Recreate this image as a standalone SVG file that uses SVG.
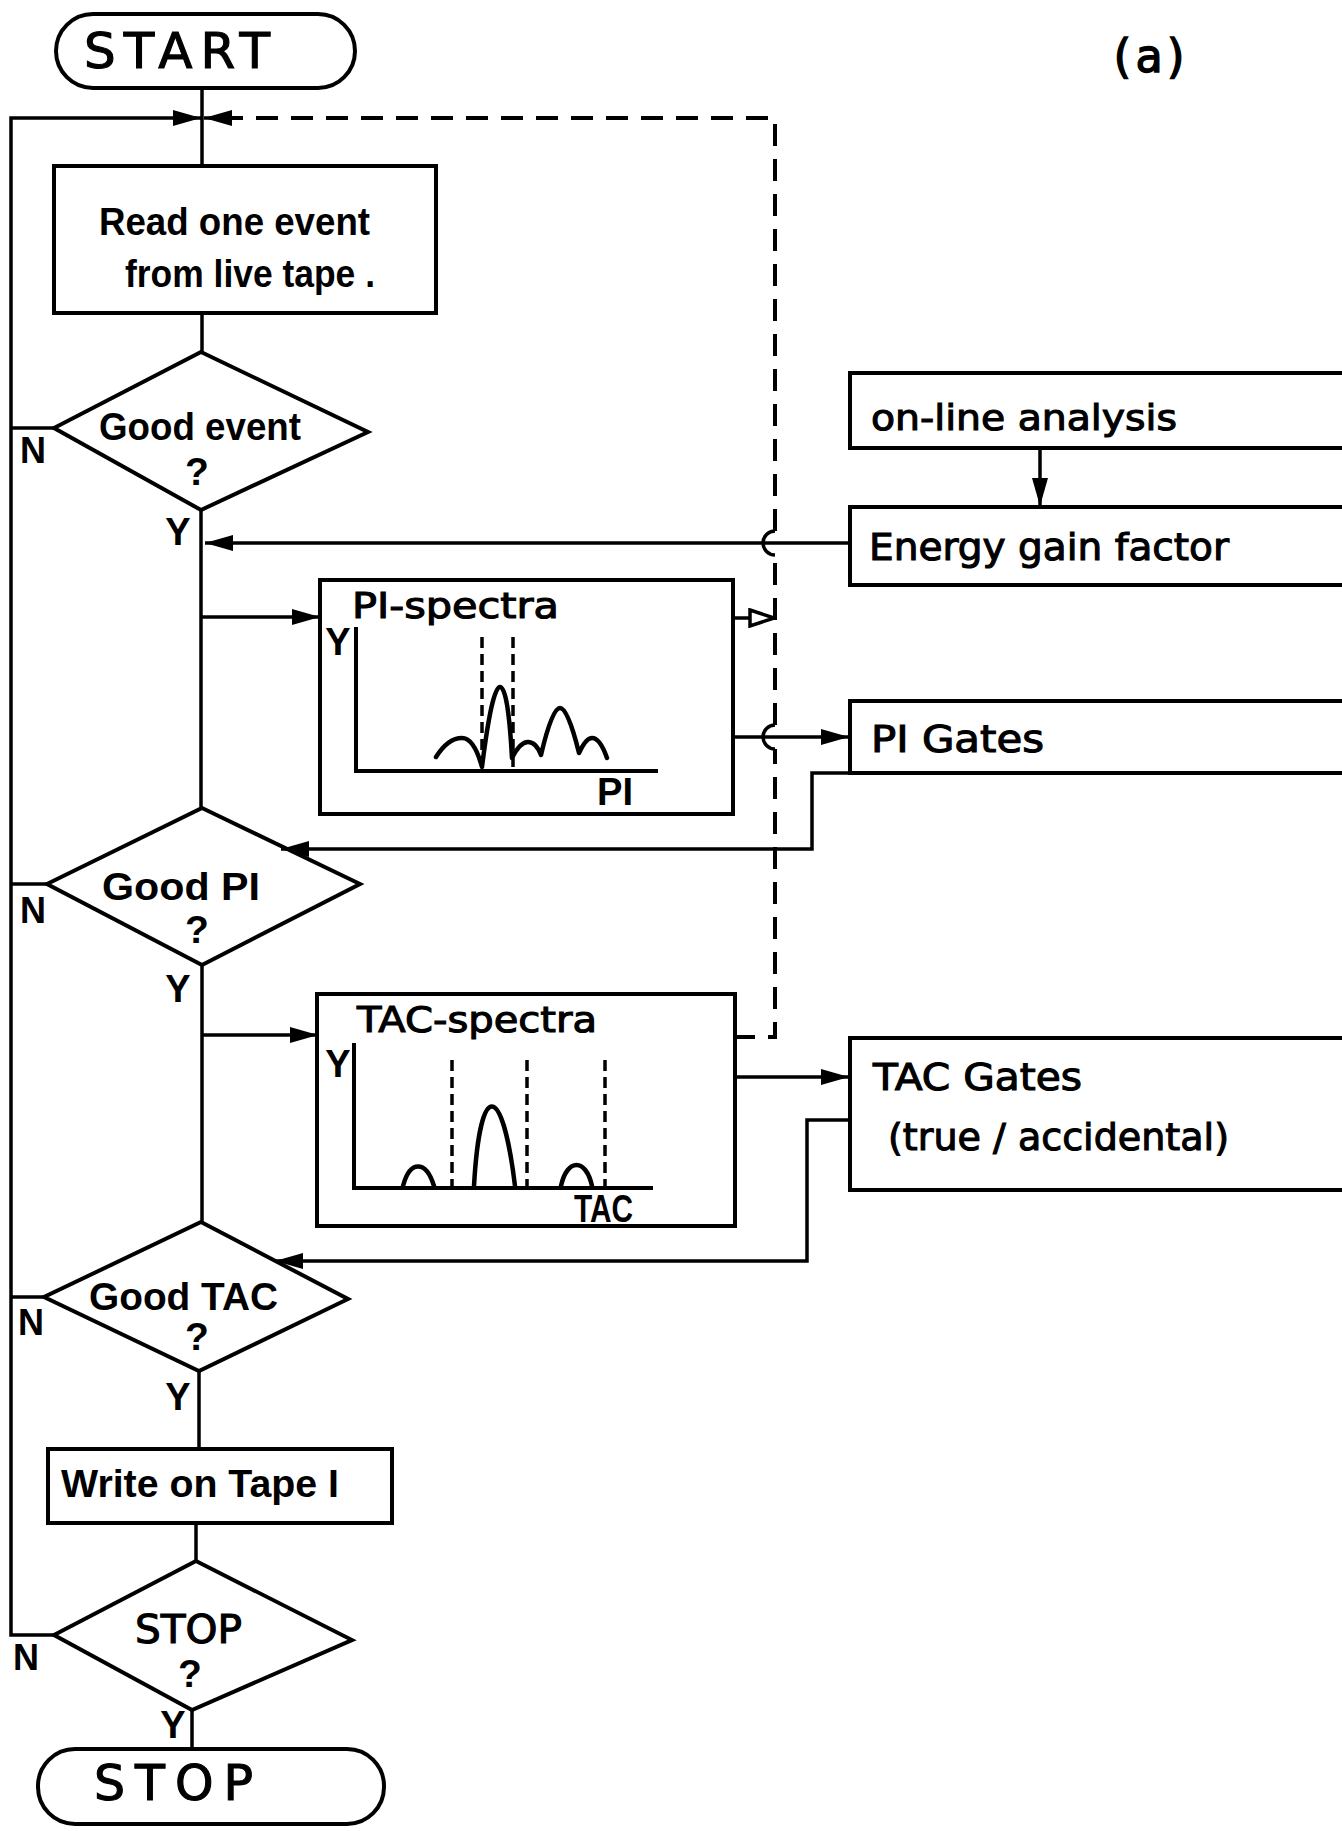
<svg xmlns="http://www.w3.org/2000/svg" width="1342" height="1831" viewBox="0 0 1342 1831">
<style>
.ln{fill:none;stroke:#000;stroke-width:3.5;stroke-linejoin:miter}
.bx{fill:none;stroke:#000;stroke-width:4}
.ds{fill:none;stroke:#000;stroke-width:4;stroke-dasharray:22 13}
.gd{fill:none;stroke:#000;stroke-width:3.5;stroke-dasharray:11 6}
.cv{fill:none;stroke:#000;stroke-width:4.5;stroke-linejoin:round;stroke-linecap:round}
.c{font-family:"Liberation Sans",Arial,sans-serif;font-weight:bold;fill:#000}
.d{font-family:"DejaVu Sans","Liberation Sans",sans-serif;fill:#000;stroke:#000;stroke-width:1.1}
.m{font-family:"DejaVu Sans Mono","Liberation Mono",monospace;fill:#000;stroke:#000;stroke-width:1.4}
</style>
<defs>
<marker id="ah" markerWidth="28" markerHeight="18" refX="28" refY="9" orient="auto" markerUnits="userSpaceOnUse">
<path d="M0,1 L28,9 L0,17 Z" fill="#000" stroke="none"/>
</marker>
<marker id="oh" markerWidth="28" markerHeight="20" refX="26" refY="10" orient="auto" markerUnits="userSpaceOnUse">
<path d="M2,2 L26,10 L2,18 Z" fill="#fff" stroke="#000" stroke-width="3.5"/>
</marker>
</defs>

<g id="connectors">
<path class="ln" d="M202 88 V165"/>
<path class="ln" d="M202 313 V352"/>
<path class="ln" d="M201 510 V808"/>
<path class="ln" d="M202 965 V1222"/>
<path class="ln" d="M199 1371 V1449"/>
<path class="ln" d="M196 1523 V1561"/>
<path class="ln" d="M192 1710 V1749"/>
<path class="ln" d="M54 1635 H11 V118 H201" marker-end="url(#ah)"/>
<path class="ln" d="M54 428 H11"/>
<path class="ln" d="M47 884 H11"/>
<path class="ln" d="M44 1297 H11"/>
<path class="ds" d="M733 1037 H775 V749"/>
<path class="ds" d="M775 725 V555"/>
<path class="ds" d="M775 531 V118 H232"/>
<path class="ln" d="M240 118 H204" marker-end="url(#ah)"/>
<path class="ln" d="M775 749 A12 12 0 0 1 775 725"/>
<path class="ln" d="M775 555 A12 12 0 0 1 775 531"/>
<path class="ln" d="M850 543 H205" marker-end="url(#ah)"/>
<path class="ln" d="M202 617 H320" marker-end="url(#ah)"/>
<path class="ln" d="M733 618 H774" marker-end="url(#oh)"/>
<path class="ln" d="M733 737 H849" marker-end="url(#ah)"/>
<path class="ln" d="M850 773 H812 V849 H281" marker-end="url(#ah)"/>
<path class="ln" d="M202 1035 H318" marker-end="url(#ah)"/>
<path class="ln" d="M735 1077 H849" marker-end="url(#ah)"/>
<path class="ln" d="M850 1120 H807 V1261 H275" marker-end="url(#ah)"/>
<path class="ln" d="M1040 448 V506" marker-end="url(#ah)"/>
</g>

<g id="start">
<rect class="bx" x="56" y="14" width="299" height="74" rx="37"/>
<text class="d" x="84" y="68" style="font-size:50px" textLength="186" lengthAdjust="spacing">START</text>
</g>
<g id="label-a">
<text class="m" x="1108" y="72" style="font-size:46px" textLength="82" lengthAdjust="spacingAndGlyphs">(a)</text>
</g>
<g id="read">
<rect class="bx" x="54" y="166" width="382" height="147"/>
<text class="c" x="99" y="235" style="font-size:39px" textLength="271" lengthAdjust="spacingAndGlyphs">Read one event</text>
<text class="c" x="125" y="287" style="font-size:39px" textLength="250" lengthAdjust="spacingAndGlyphs">from live tape .</text>
</g>
<g id="good-event">
<polygon class="bx" points="201,352 368,432 201,510 54,428"/>
<text class="c" x="99" y="440" style="font-size:39px" textLength="202" lengthAdjust="spacingAndGlyphs">Good event</text>
<text class="c" x="197" y="485" style="font-size:39px" text-anchor="middle">?</text>
<text class="c" x="20" y="463" style="font-size:36px">N</text>
<text class="c" x="178" y="545" style="font-size:38px" text-anchor="middle">Y</text>
</g>
<g id="pi-spectra">
<rect class="bx" x="320" y="580" width="413" height="234"/>
<text class="d" x="352" y="618" style="font-size:36px" textLength="207" lengthAdjust="spacingAndGlyphs">PI-spectra</text>
<text class="c" x="338" y="655" style="font-size:38px" text-anchor="middle">Y</text>
<path class="bx" d="M356 627 V771 H658"/>
<path class="cv" d="M436 757 Q448 738 462 738 Q474 738 482 767 Q492 687 500 687 Q508 687 512 758 Q520 742 528 742 Q536 742 541 755 Q552 708 560 708 Q568 708 579 753 Q586 738 592 738 Q600 738 607 758"/>
<path class="gd" d="M482 637 V767 M513 637 V767"/>
<text class="c" x="597" y="805" style="font-size:38px" textLength="36" lengthAdjust="spacingAndGlyphs">PI</text>
</g>
<g id="online">
<rect class="bx" x="850" y="373" width="520" height="75"/>
<text class="d" x="871" y="430" style="font-size:36px" textLength="306" lengthAdjust="spacingAndGlyphs">on-line analysis</text>
</g>
<g id="energy">
<rect class="bx" x="850" y="507" width="520" height="78"/>
<text class="d" x="869" y="560" style="font-size:38px" textLength="360" lengthAdjust="spacingAndGlyphs">Energy gain factor</text>
</g>
<g id="pi-gates">
<rect class="bx" x="850" y="701" width="520" height="72"/>
<text class="d" x="871" y="752" style="font-size:38px" textLength="173" lengthAdjust="spacingAndGlyphs">PI  Gates</text>
</g>
<g id="good-pi">
<polygon class="bx" points="202,808 360,884 202,965 47,884"/>
<text class="c" x="102" y="900" style="font-size:39px" textLength="158" lengthAdjust="spacingAndGlyphs">Good  PI</text>
<text class="c" x="197" y="943" style="font-size:39px" text-anchor="middle">?</text>
<text class="c" x="20" y="923" style="font-size:36px">N</text>
<text class="c" x="178" y="1002" style="font-size:38px" text-anchor="middle">Y</text>
</g>
<g id="tac-spectra">
<rect class="bx" x="317" y="994" width="418" height="232"/>
<text class="d" x="357" y="1032" style="font-size:36px" textLength="240" lengthAdjust="spacingAndGlyphs">TAC-spectra</text>
<text class="c" x="338" y="1077" style="font-size:38px" text-anchor="middle">Y</text>
<path class="bx" d="M354 1043 V1188 H653"/>
<path class="cv" d="M403 1186 C410 1160 426 1160 434 1186 M474 1186 C480 1080 502 1080 515 1186 M561 1186 C567 1158 586 1158 592 1186"/>
<path class="gd" d="M452 1060 V1187 M527 1060 V1187 M605 1060 V1187"/>
<text class="c" x="574" y="1222" style="font-size:38px" textLength="59" lengthAdjust="spacingAndGlyphs">TAC</text>
</g>
<g id="tac-gates">
<rect class="bx" x="850" y="1038" width="520" height="152"/>
<text class="d" x="873" y="1090" style="font-size:38px" textLength="209" lengthAdjust="spacingAndGlyphs">TAC  Gates</text>
<text class="d" x="888" y="1150" style="font-size:38px" textLength="341" lengthAdjust="spacingAndGlyphs">(true / accidental)</text>
</g>
<g id="good-tac">
<polygon class="bx" points="201,1222 348,1299 199,1371 44,1297"/>
<text class="c" x="89" y="1310" style="font-size:39px" textLength="189" lengthAdjust="spacingAndGlyphs">Good  TAC</text>
<text class="c" x="197" y="1350" style="font-size:39px" text-anchor="middle">?</text>
<text class="c" x="18" y="1335" style="font-size:36px">N</text>
<text class="c" x="178" y="1410" style="font-size:38px" text-anchor="middle">Y</text>
</g>
<g id="write">
<rect class="bx" x="48" y="1449" width="344" height="74"/>
<text class="c" x="61" y="1497" style="font-size:39px" textLength="278" lengthAdjust="spacingAndGlyphs">Write on Tape I</text>
</g>
<g id="stop-q">
<polygon class="bx" points="196,1561 352,1640 192,1710 54,1635"/>
<text class="d" x="135" y="1643" style="font-size:39px" textLength="107" lengthAdjust="spacingAndGlyphs">STOP</text>
<text class="c" x="190" y="1687" style="font-size:39px" text-anchor="middle">?</text>
<text class="c" x="13" y="1670" style="font-size:36px">N</text>
<text class="c" x="173" y="1738" style="font-size:38px" text-anchor="middle">Y</text>
</g>
<g id="stop">
<rect class="bx" x="38" y="1749" width="346" height="75" rx="37"/>
<text class="d" x="94" y="1800" style="font-size:49px" textLength="159" lengthAdjust="spacing">STOP</text>
</g>
</svg>
